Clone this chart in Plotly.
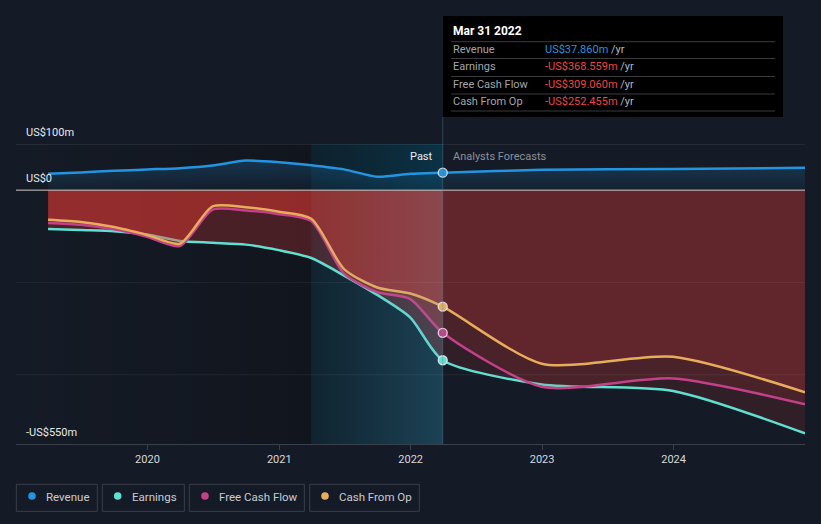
import plotly.graph_objects as go

# ---------------- data (US$ m) ----------------
past_dates = ["2019-03-31", "2019-06-30", "2019-09-30", "2019-12-31",
              "2020-03-31", "2020-06-30", "2020-09-30", "2020-12-31",
              "2021-03-31", "2021-06-30", "2021-09-30", "2021-12-31",
              "2022-03-31"]
forecast_dates = ["2022-12-31", "2023-12-31", "2024-12-31"]

revenue_past = [35.5, 38.5, 41.8, 44.8, 47.7, 53.5, 64.0, 60.7, 54.0, 45.0, 29.0, 35.5, 37.860]
revenue_fc = [44.0, 46.0, 48.5]

earnings_past = [-84, -86.5, -89, -96, -110, -114, -118, -130, -147, -185, -227, -276, -368.559]
earnings_fc = [-421, -435, -527]

fcf_past = [-71, -75, -85, -101, -121, -42, -44, -52, -67, -181, -221, -236, -309.060]
fcf_fc = [-426, -408, -464]

cfo_past = [-64, -69, -80, -97, -116, -35, -37, -47, -62, -171, -211, -224, -252.455]
cfo_fc = [-376, -361, -438]

series_names = ["Revenue", "Earnings", "Free Cash Flow", "Cash From Op"]
series_colors = ["#2394df", "#5fe0d0", "#c4418a", "#e8ad5c"]

x_range = ["2019-01-01", "2024-12-31"]
y_range = [-550, 100]
tick_years = ["2020", "2021", "2022", "2023", "2024"]
highlight_start = past_dates[8]
present = past_dates[-1]
present_label = "Mar 31 2022"

BG = "#151b26"
FONT = "Roboto, 'Open Sans', sans-serif"

# pixel helpers for decorations outside the plot (plot area: x 16..805, y 144..444)
def px_x(px):
    return (px - 16) / 789.0

def px_y(py):
    return (444 - py) / 300.0

fig = go.Figure()

# background region: darker "past" band
fig.add_trace(go.Scatter(
    x=[x_range[0], highlight_start, highlight_start, x_range[0], x_range[0]],
    y=[y_range[1], y_range[1], y_range[0], y_range[0], y_range[1]],
    mode="lines", line=dict(width=0), fill="toself",
    fillgradient=dict(type="horizontal",
                      colorscale=[[0, "rgba(0,0,0,0)"], [1, "rgba(0,0,0,0.22)"]]),
    hoverinfo="skip", showlegend=False))

# background region: last twelve months highlight
fig.add_trace(go.Scatter(
    x=[highlight_start, present, present, highlight_start, highlight_start],
    y=[y_range[1], y_range[1], y_range[0], y_range[0], y_range[1]],
    mode="lines", line=dict(width=0), fill="toself",
    fillgradient=dict(type="horizontal",
                      colorscale=[[0, "rgba(0,45,60,0.35)"], [1, "rgba(0,72,98,0.52)"]]),
    hoverinfo="skip", showlegend=False))

all_dates = past_dates + forecast_dates
SMOOTH = 0.7

# Revenue
fig.add_trace(go.Scatter(
    x=all_dates, y=revenue_past + revenue_fc, mode="lines",
    line=dict(color=series_colors[0], width=2.5, shape="spline", smoothing=SMOOTH),
    fill="tozeroy",
    fillgradient=dict(type="vertical",
                      colorscale=[[0, "rgba(35,148,223,0.05)"], [1, "rgba(35,148,223,0.24)"]]),
    hoverinfo="skip", showlegend=False))

RED_FC = "rgba(255,62,58,0.12)"
RED_PAST_EXTRA = "rgba(255,62,58,0.125)"

for past, fc, col in [(earnings_past, earnings_fc, series_colors[1]),
                      (fcf_past, fcf_fc, series_colors[2]),
                      (cfo_past, cfo_fc, series_colors[3])]:
    fig.add_trace(go.Scatter(
        x=past_dates, y=past, mode="lines",
        line=dict(width=0, shape="spline", smoothing=SMOOTH),
        fill="tozeroy", fillcolor=RED_PAST_EXTRA,
        hoverinfo="skip", showlegend=False))
    fig.add_trace(go.Scatter(
        x=all_dates, y=past + fc, mode="lines",
        line=dict(color=col, width=2.5, shape="spline", smoothing=SMOOTH),
        fill="tozeroy", fillcolor=RED_FC,
        hoverinfo="skip", showlegend=False))

# soft light wash over the highlight band (desaturates the red, as in the reference)
fig.add_trace(go.Scatter(
    x=[highlight_start, present, present, highlight_start, highlight_start],
    y=[0, 0, y_range[0], y_range[0], 0],
    mode="lines", line=dict(width=0), fill="toself",
    fillgradient=dict(type="horizontal",
                      colorscale=[[0, "rgba(120,150,170,0.02)"], [1, "rgba(120,150,170,0.16)"]]),
    hoverinfo="skip", showlegend=False))

# present markers
last_vals = [revenue_past[-1], earnings_past[-1], fcf_past[-1], cfo_past[-1]]
for v, col in zip(last_vals, series_colors):
    fig.add_trace(go.Scatter(
        x=[present], y=[v], mode="markers",
        marker=dict(size=9, color=col, line=dict(color="rgba(235,240,245,0.85)", width=1.3)),
        hoverinfo="skip", showlegend=False))

shapes = []
# zero line and grid lines (above fills)
shapes.append(dict(type="line", xref="paper", yref="y", x0=0, x1=1, y0=0, y1=0,
                   line=dict(color="#d3cac8", width=1), layer="above"))
for gy, a in [(100, 0.14), (-200, 0.06), (-400, 0.06)]:
    shapes.append(dict(type="line", xref="paper", yref="y", x0=0, x1=1, y0=gy, y1=gy,
                       line=dict(color="rgba(255,255,255,%s)" % a, width=1), layer="above"))
# present vertical line up to tooltip
shapes.append(dict(type="line", xref="x", yref="paper", x0=present, x1=present,
                   y0=0, y1=px_y(117), line=dict(color="rgba(90,130,150,0.4)", width=1),
                   layer="above"))

# tooltip box
shapes.append(dict(type="rect", xref="paper", yref="paper",
                   x0=px_x(443), x1=px_x(783), y0=px_y(117), y1=px_y(16),
                   fillcolor="#000000", line=dict(width=0), layer="above"))
for sy in [41.7, 58.5, 76.5, 94, 111]:
    shapes.append(dict(type="line", xref="paper", yref="paper",
                       x0=px_x(451), x1=px_x(775), y0=px_y(sy), y1=px_y(sy),
                       line=dict(color="#3a3a3a", width=1), layer="above"))

annotations = []
def ann(text, px, py, color="#e6e8eb", size=11, anchor="left"):
    annotations.append(dict(text=text, xref="paper", yref="paper",
                            x=px_x(px), y=px_y(py), xanchor=anchor, yanchor="middle",
                            showarrow=False, font=dict(family=FONT, size=size, color=color)))

ann("<b>" + present_label + "</b>", 451, 31, color="#ffffff", size=12)

def fmt(v):
    return ("-US$%.3fm" % abs(v)) if v < 0 else ("US$%.3fm" % v)

row_y = [49.3, 66.5, 84, 101]
for name, v, ry in zip(series_names, last_vals, row_y):
    ann(name, 451, ry, color="#a3a6ab", size=11)
    vcol = "#2394df" if v >= 0 else "#f0443f"
    ann("<span style='color:%s'>%s</span> /yr" % (vcol, fmt(v)), 543, ry, color="#b5b8bc", size=11)

# axis value labels
ann("US$100m", 24, 132, color="#e8eaed", size=11)
ann("US$0", 24, 178, color="#e8eaed", size=11)
ann("-US$550m", 24, 432, color="#e8eaed", size=11)

# Past / Analysts Forecasts
ann("Past", 435, 156, color="#eceef0", size=11, anchor="right")
ann("Analysts Forecasts", 451, 156, color="#8c9098", size=11)

# custom legend
legend_boxes = [(16.3, 97.3), (102.3, 184.3), (189.3, 304.3), (309.7, 419.3)]
dot_x = [32, 117.7, 205, 325]
text_x = [44.3, 130, 217, 337]
for (bx0, bx1), dx, tx, name, col in zip(legend_boxes, dot_x, text_x, series_names, series_colors):
    shapes.append(dict(type="rect", xref="paper", yref="paper",
                       x0=px_x(bx0), x1=px_x(bx1), y0=px_y(511.3), y1=px_y(484.3),
                       line=dict(color="#3a3f49", width=1), fillcolor="rgba(0,0,0,0)"))
    r = 3.8
    shapes.append(dict(type="circle", xref="paper", yref="paper",
                       x0=px_x(dx - r), x1=px_x(dx + r), y0=px_y(496 + r), y1=px_y(496 - r),
                       line=dict(width=0), fillcolor=col))
    ann(name, tx, 496.5, color="#c9ccd1", size=11.5)

fig.update_layout(
    width=821, height=524,
    margin=dict(l=16, r=16, t=144, b=80),
    paper_bgcolor=BG, plot_bgcolor=BG,
    showlegend=False,
    font=dict(family=FONT, color="#d6d9de"),
    shapes=shapes, annotations=annotations,
    xaxis=dict(type="date", range=x_range,
               tickvals=[y + "-01-01" for y in tick_years], ticktext=tick_years,
               showgrid=False, zeroline=False, showline=True, linecolor="#3a404a",
               ticks="outside", ticklen=5, tickcolor="#3a404a",
               tickfont=dict(size=11, color="#d6d9de", family=FONT)),
    yaxis=dict(range=y_range, showgrid=False, zeroline=False, showticklabels=False),
)

fig.write_html("out.html",
               config={"displayModeBar": False},
               post_script="document.body.style.margin='0';"
                           "document.body.style.background='%s';" % BG)
